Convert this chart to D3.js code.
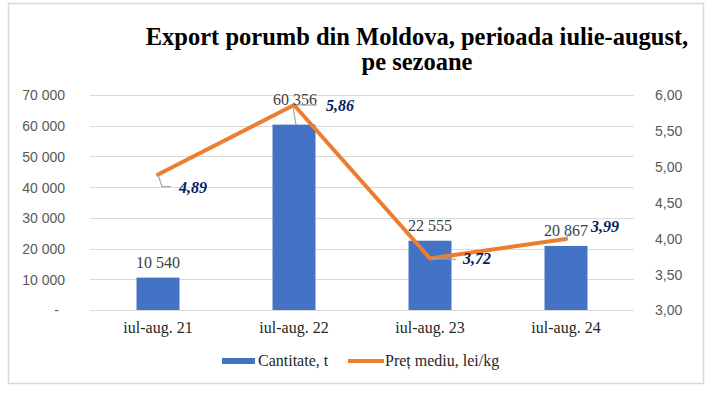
<!DOCTYPE html>
<html>
<head>
<meta charset="utf-8">
<script src="https://cdn.jsdelivr.net/npm/d3@7"></script>
<style>
  html, body { margin: 0; padding: 0; background: #fff; }
  svg { display: block; }
</style>
</head>
<body>
<svg id="chart_svg" width="718" height="394"></svg>
<script>
// chart data
var categories = ["iul-aug. 21", "iul-aug. 22", "iul-aug. 23", "iul-aug. 24"];
var quantity = [10540, 60356, 22555, 20867];   // Cantitate, t
var price = [4.89, 5.86, 3.72, 3.99];          // Pret mediu, lei/kg
var leftTicks = [0, 10000, 20000, 30000, 40000, 50000, 60000, 70000];
var rightTicks = [3.0, 3.5, 4.0, 4.5, 5.0, 5.5, 6.0];
var titleLines = ["Export porumb din Moldova, perioada iulie-august,", "pe sezoane"];
var legendNames = ["Cantitate, t", "Preț mediu, lei/kg"];

var ro = d3.formatLocale({ decimal: ",", thousands: " ", grouping: [3], currency: ["", ""] });
var fmtQty = ro.format(",d");
var fmtPrice = ro.format(".2f");

var svg = d3.select("#chart_svg");
var plot = { left: 90, right: 634, top: 95, bottom: 310 };

// chart frame
svg.append("rect")
    .attr("x", 8.5).attr("y", 3.5).attr("width", 695).attr("height", 380)
    .attr("style", "fill:none; stroke:#d9d9d9; stroke-width:1.5");

// title
svg.selectAll(".title").data(titleLines).join("text").classed("title", true)
    .attr("x", 417).attr("y", (d, i) => 45 + i * 25)
    .attr("text-anchor", "middle")
    .attr("style", "font-family:'Liberation Serif', 'Times New Roman', serif; font-weight:bold; font-size:24.5px; fill:#000")
    .text(d => d);

// scales
var x = d3.scaleBand().domain(categories).range([plot.left, plot.right]).paddingInner(0.684).paddingOuter(0.342);
var xc = d => x(d) + x.bandwidth() / 2;
var yL = d3.scaleLinear().domain([0, 70000]).range([plot.bottom, plot.top]);
var yR = d3.scaleLinear().domain([3, 6]).range([plot.bottom, plot.top]);

// gridlines
svg.append("g").selectAll("line").data(leftTicks).join("line")
    .attr("x1", plot.left).attr("x2", plot.right)
    .attr("y1", d => Math.round(yL(d)) + 0.5).attr("y2", d => Math.round(yL(d)) + 0.5)
    .attr("style", "stroke:#d9d9d9; stroke-width:1");

var tickStyle = "font-family:'Liberation Sans', Arial, sans-serif; font-size:14px; fill:#595959";

// left axis
var axL = svg.append("g").attr("transform", "translate(" + (plot.left - 25) + ",0)")
    .call(d3.axisLeft(yL).tickValues(leftTicks).tickSize(0).tickPadding(0)
        .tickFormat(d => d === 0 ? "-" : fmtQty(d)));
axL.select(".domain").remove();
axL.selectAll("text").attr("style", tickStyle).attr("dy", "0.35em");
axL.selectAll(".tick").filter(d => d === 0).select("text").attr("dx", "-6");

// right axis
var axR = svg.append("g").attr("transform", "translate(" + (plot.right + 21) + ",0)")
    .call(d3.axisRight(yR).tickValues(rightTicks).tickSize(0).tickPadding(0).tickFormat(fmtPrice));
axR.select(".domain").remove();
axR.selectAll("text").attr("style", tickStyle).attr("dy", "0.35em");

// x axis labels
svg.append("g").selectAll("text").data(categories).join("text")
    .attr("x", d => xc(d)).attr("y", plot.bottom + 23)
    .attr("text-anchor", "middle")
    .attr("style", "font-family:'Liberation Serif', 'Times New Roman', serif; font-size:16px; fill:#262626")
    .text(d => d);

// bars
var barColor = "#4472c4", lineColor = "#ed7d31";
svg.append("g").selectAll("rect").data(quantity).join("rect")
    .attr("x", (d, i) => x(categories[i])).attr("width", x.bandwidth())
    .attr("y", d => yL(d)).attr("height", d => plot.bottom - yL(d))
    .attr("fill", barColor);

// price line
var pts = price.map((d, i) => [xc(categories[i]), yR(d)]);
svg.append("path").datum(pts)
    .attr("d", d3.line())
    .attr("style", "fill:none; stroke:" + lineColor + "; stroke-width:4; stroke-linejoin:round; stroke-linecap:round");

var leaderStyle = "fill:none; stroke:#a6a6a6; stroke-width:1.2";

// quantity labels (offsets relative to bar top)
var qOff = [[0, -10], [1, -20], [0, -10], [0, -10]];
svg.append("g").selectAll("text").data(quantity).join("text")
    .attr("x", (d, i) => xc(categories[i]) + qOff[i][0])
    .attr("y", d => yL(d)).attr("dy", (d, i) => qOff[i][1])
    .attr("text-anchor", "middle")
    .attr("style", "font-family:'Liberation Serif', 'Times New Roman', serif; font-size:16px; fill:#404040")
    .text(d => fmtQty(d));
// leader from "60 356" down to its bar
svg.append("path")
    .attr("d", "M" + (xc(categories[1]) - 1) + "," + (yL(quantity[1]) - 17) + "L" + (xc(categories[1]) + 2) + "," + yL(quantity[1]))
    .attr("style", leaderStyle);

// price labels with leader lines (relative to each point)
var pLabel = [[21, 18], [32, 6], [33, 6], [25, -7]];
var pLeader = [
    [[0, 0], [4, 12], [13, 12]],
    [[2, 0], [23, 0]],
    [[2, 0], [26, 1]],
    [[0, 0], [3, -6]]
];
pts.forEach(function (p, i) {
    svg.append("path")
        .attr("d", d3.line()(pLeader[i].map(o => [p[0] + o[0], p[1] + o[1]])))
        .attr("style", leaderStyle);
});
svg.append("g").selectAll("text").data(price).join("text")
    .attr("x", (d, i) => pts[i][0] + pLabel[i][0]).attr("y", (d, i) => pts[i][1] + pLabel[i][1])
    .attr("style", "font-family:'Liberation Serif', 'Times New Roman', serif; font-size:16px; font-weight:bold; font-style:italic; fill:#002060")
    .text(d => fmtPrice(d));

// legend
var lg = svg.append("g").attr("transform", "translate(0,361)");
lg.append("rect").attr("x", 222).attr("y", -3).attr("width", 33).attr("height", 6).attr("fill", barColor);
lg.append("line").attr("x1", 348).attr("x2", 384).attr("y1", 0).attr("y2", 0)
    .attr("style", "stroke:" + lineColor + "; stroke-width:4");
lg.selectAll("text").data(legendNames).join("text")
    .attr("x", (d, i) => i === 0 ? 258 : 385).attr("y", 5)
    .attr("style", "font-family:'Liberation Serif', 'Times New Roman', serif; font-size:16px; fill:#262626")
    .text(d => d);
</script>
</body>
</html>
